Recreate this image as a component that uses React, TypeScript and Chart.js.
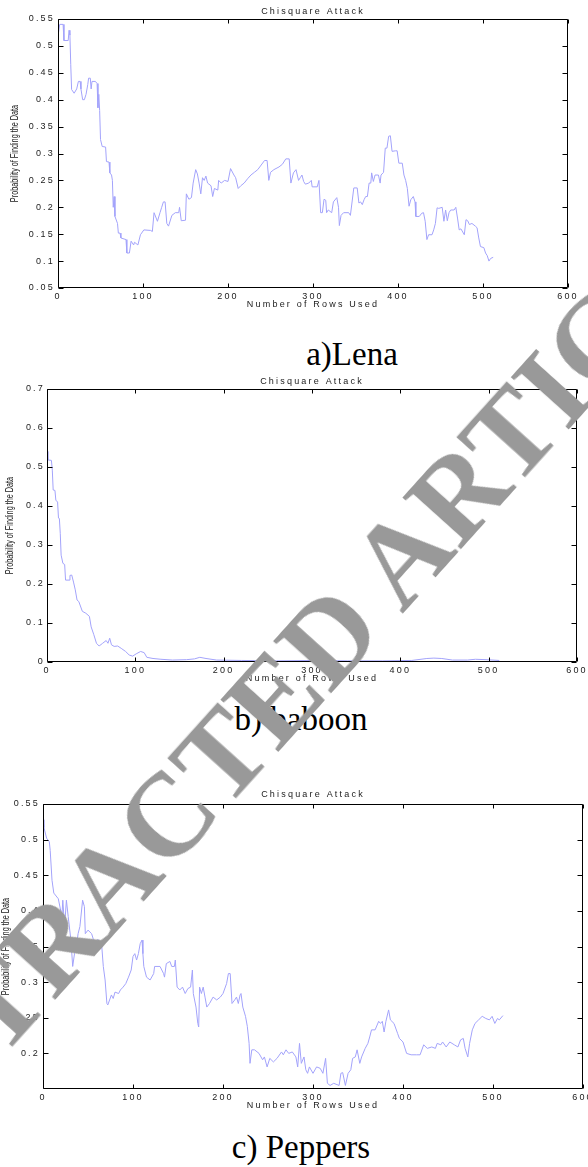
import React, { useEffect, useRef } from "react";
import { Chart, registerables } from "chart.js";

Chart.register(...registerables);

// ---------- data ----------
const lenaRows = [0,2,6,7,12,13,14,15,16,19,22,24,26,27,29,31,33,35,36,38,39,40,44,46,47,48,49,50,52,56,57,60,61,63,64,65,66,67,70,71,73,74,80,81,84,86,89,90,94,97,101,109,111,113,117,120,122,124,126,128,130,134,138,142,143,145,150,151,154,157,159,162,164,166,168,170,172,174,176,180,182,184,188,189,192,196,200,203,207,209,212,215,219,223,227,231,235,243,246,248,250,254,260,264,268,272,274,277,280,283,285,287,289,291,295,298,299,305,307,309,311,313,315,316,318,322,324,328,330,331,333,336,342,344,348,352,354,356,358,360,362,364,366,368,369,371,373,377,379,380,383,385,387,389,391,393,397,399,401,405,407,409,411,413,415,418,420,421,425,428,430,432,434,436,440,442,444,446,448,452,454,456,458,460,462,466,468,470,472,474,478,480,482,484,487,491,493,495,497,501,503,505,507,509,512];
const lenaValues = [0.518,0.54,0.54,0.51,0.51,0.529,0.52,0.465,0.419,0.412,0.42,0.434,0.434,0.42,0.40,0.40,0.41,0.428,0.44,0.44,0.42,0.434,0.434,0.43,0.385,0.41,0.38,0.326,0.313,0.312,0.285,0.284,0.264,0.26,0.25,0.20,0.22,0.183,0.17,0.152,0.152,0.143,0.14,0.115,0.115,0.137,0.13,0.135,0.13,0.149,0.158,0.157,0.155,0.19,0.174,0.19,0.2,0.21,0.21,0.17,0.165,0.185,0.19,0.19,0.2,0.175,0.176,0.225,0.215,0.218,0.245,0.27,0.262,0.245,0.225,0.255,0.25,0.258,0.245,0.24,0.22,0.235,0.232,0.25,0.245,0.25,0.248,0.272,0.26,0.255,0.235,0.24,0.245,0.253,0.26,0.265,0.27,0.287,0.287,0.25,0.265,0.27,0.275,0.28,0.29,0.29,0.245,0.264,0.27,0.25,0.255,0.26,0.248,0.243,0.245,0.25,0.238,0.238,0.25,0.19,0.19,0.215,0.213,0.19,0.195,0.19,0.21,0.218,0.2,0.166,0.185,0.19,0.19,0.185,0.236,0.236,0.208,0.21,0.205,0.214,0.22,0.22,0.245,0.245,0.264,0.248,0.26,0.26,0.245,0.26,0.265,0.31,0.31,0.332,0.333,0.304,0.305,0.305,0.282,0.282,0.26,0.25,0.235,0.202,0.214,0.22,0.21,0.183,0.183,0.189,0.19,0.174,0.14,0.149,0.149,0.158,0.17,0.199,0.198,0.2,0.174,0.195,0.175,0.19,0.195,0.195,0.2,0.18,0.158,0.16,0.149,0.177,0.175,0.168,0.17,0.165,0.162,0.143,0.127,0.125,0.115,0.11,0.1,0.105,0.107];

const baboonRows = [0,1,5,6,7,9,10,12,13,14,15,16,18,20,21,25,26,28,30,32,34,36,40,44,48,50,53,56,59,63,67,69,71,73,76,80,84,89,93,97,101,106,110,113,120,129,142,158,167,173,180,192,220,260,300,340,380,413,430,438,447,459,476,485,497,512];
const baboonValues = [0.54,0.518,0.517,0.492,0.441,0.44,0.415,0.41,0.369,0.368,0.33,0.274,0.253,0.25,0.21,0.21,0.222,0.223,0.205,0.185,0.159,0.155,0.13,0.125,0.117,0.09,0.07,0.048,0.041,0.048,0.055,0.048,0.061,0.044,0.04,0.041,0.035,0.027,0.018,0.015,0.021,0.027,0.024,0.012,0.009,0.007,0.005,0.006,0.008,0.012,0.009,0.005,0.004,0.003,0.004,0.003,0.003,0.004,0.009,0.01,0.009,0.005,0.005,0.007,0.006,0.004];

const peppersRows = [0,1,4,7,8,10,12,17,21,22,24,26,28,31,33,35,37,39,41,44,46,47,50,54,56,59,61,63,65,67,69,71,72,76,78,80,84,86,89,92,95,98,100,102,104,106,108,110,111,112,115,119,123,124,130,134,135,137,141,143,146,147,149,152,155,158,161,164,166,167,170,172,173,174,176,178,180,182,185,189,193,197,200,204,206,208,210,213,215,217,219,220,222,225,227,229,230,232,235,240,244,246,249,252,256,260,265,267,270,273,277,281,283,285,287,290,292,294,296,300,304,308,311,314,316,319,323,329,331,333,336,339,342,344,347,349,352,354,358,361,363,365,369,373,375,377,379,381,384,386,390,394,396,400,404,409,415,419,423,427,432,436,438,442,444,448,452,457,461,464,467,469,472,474,477,480,484,488,492,496,499,502,505,507,511];
const peppersValues = [0.528,0.517,0.502,0.497,0.485,0.443,0.425,0.417,0.392,0.415,0.378,0.415,0.392,0.359,0.322,0.34,0.35,0.368,0.378,0.415,0.406,0.368,0.373,0.368,0.36,0.354,0.36,0.35,0.355,0.322,0.303,0.27,0.268,0.282,0.277,0.286,0.284,0.289,0.293,0.298,0.307,0.317,0.336,0.34,0.331,0.34,0.354,0.359,0.34,0.322,0.307,0.303,0.312,0.322,0.322,0.312,0.307,0.326,0.329,0.322,0.322,0.331,0.293,0.289,0.293,0.284,0.291,0.293,0.317,0.284,0.265,0.242,0.237,0.293,0.284,0.293,0.279,0.265,0.27,0.279,0.275,0.279,0.284,0.298,0.312,0.312,0.27,0.275,0.279,0.27,0.282,0.284,0.265,0.252,0.238,0.214,0.186,0.205,0.205,0.2,0.191,0.195,0.181,0.193,0.188,0.193,0.202,0.198,0.205,0.2,0.202,0.195,0.181,0.214,0.186,0.195,0.177,0.172,0.181,0.172,0.181,0.179,0.172,0.193,0.158,0.155,0.158,0.155,0.172,0.173,0.155,0.172,0.177,0.193,0.195,0.205,0.186,0.195,0.207,0.214,0.223,0.233,0.233,0.245,0.242,0.245,0.23,0.245,0.261,0.247,0.242,0.228,0.221,0.216,0.2,0.198,0.198,0.198,0.212,0.207,0.209,0.207,0.214,0.212,0.216,0.209,0.216,0.212,0.209,0.219,0.221,0.207,0.195,0.214,0.233,0.242,0.247,0.252,0.249,0.247,0.252,0.242,0.249,0.247,0.253];

const xTicks = [0, 100, 200, 300, 400, 500, 600];
const lenaYTicks = [0.05, 0.1, 0.15, 0.2, 0.25, 0.3, 0.35, 0.4, 0.45, 0.5, 0.55];
const baboonYTicks = [0, 0.1, 0.2, 0.3, 0.4, 0.5, 0.6, 0.7];
const peppersYTicks = [0.2, 0.25, 0.3, 0.35, 0.4, 0.45, 0.5, 0.55];

const chartTitle = "Chisquare Attack";
const xTitle = "Number of Rows Used";
const yTitle = "Probability of Finding the Data";
const captions = ["a)Lena", "b) baboon", "c) Peppers"];
const watermark = "RETRACTED ARTICLE";

// ---------- styling ----------
const PAGE_W = 588;
const LINE_COLOR = "#a3a3fb";
const SANS = '"Liberation Sans", Arial, sans-serif';
const SERIF = '"Liberation Serif", "Times New Roman", serif';
const XAXIS_H = 14;

type PanelProps = {
  top: number;
  height: number;
  left: number;
  right: number;
  plotTop: number;
  plotBottom: number;
  rows: number[];
  values: number[];
  ymin: number;
  ymax: number;
  yTicks: number[];
  yPad: number;
  ylabelX: number;
  titleGap: number;
};

function Panel(p: PanelProps) {
  const ref = useRef<HTMLCanvasElement | null>(null);

  useEffect(() => {
    const canvas = ref.current;
    if (!canvas) return;
    const H = p.height;

    const frame = {
      id: "matlabFrame",
      beforeDraw(chart: any) {
        chart.ctx.letterSpacing = "2.2px";
      },
      afterDraw(chart: any) {
        const { ctx, chartArea: a, scales } = chart;
        ctx.save();
        ctx.letterSpacing = "0px";
        ctx.strokeStyle = "#000";
        ctx.lineWidth = 1;
        const L = Math.round(a.left) + 0.5;
        const R = Math.round(a.right) - 0.5;
        const T = Math.round(a.top) + 0.5;
        const B = Math.round(a.bottom) - 0.5;
        ctx.beginPath();
        ctx.rect(L, T, R - L, B - T);
        for (const t of scales.x.ticks) {
          const x = Math.round(scales.x.getPixelForValue(t.value)) + 0.5;
          ctx.moveTo(x, B);
          ctx.lineTo(x, B - 4);
          ctx.moveTo(x, T);
          ctx.lineTo(x, T + 4);
        }
        for (const t of scales.y.ticks) {
          const y = Math.round(scales.y.getPixelForValue(t.value)) + 0.5;
          ctx.moveTo(L, y);
          ctx.lineTo(L + 5, y);
          ctx.moveTo(R, y);
          ctx.lineTo(R - 5, y);
        }
        ctx.stroke();

        ctx.fillStyle = "#1a1a1a";
        ctx.font = `9px ${SANS}`;
        ctx.letterSpacing = "2.2px";
        ctx.textAlign = "center";
        ctx.textBaseline = "middle";
        const cx = (a.left + a.right) / 2;
        ctx.fillText(chartTitle, cx, a.top - p.titleGap);
        ctx.fillText(xTitle, cx, a.bottom + 16.5);

        ctx.letterSpacing = "0px";
        ctx.translate(p.ylabelX, (a.top + a.bottom) / 2);
        ctx.rotate(-Math.PI / 2);
        ctx.scale(0.66, 1);
        ctx.font = `11px ${SANS}`;
        ctx.fillText(yTitle, 0, 0);
        ctx.restore();
      },
    };

    const chart = new Chart(canvas, {
      type: "line",
      data: {
        datasets: [
          {
            data: p.rows.map((r, i) => ({ x: r, y: p.values[i] })),
            borderColor: LINE_COLOR,
            borderWidth: 1,
            pointRadius: 0,
            fill: false,
            tension: 0,
          },
        ],
      },
      options: {
        animation: false,
        responsive: false,
        events: [],
        layout: {
          padding: {
            left: 0,
            right: PAGE_W - p.right,
            top: p.plotTop,
            bottom: H - p.plotBottom - XAXIS_H,
          },
        },
        plugins: {
          legend: { display: false },
          tooltip: { enabled: false },
          title: { display: false },
        },
        scales: {
          x: {
            type: "linear",
            min: 0,
            max: 600,
            afterBuildTicks: (s: any) => {
              s.ticks = xTicks.map((v) => ({ value: v }));
            },
            afterFit: (s: any) => {
              s.height = XAXIS_H;
              s.paddingLeft = 0;
              s.paddingRight = 0;
            },
            grid: { display: false, drawTicks: false },
            border: { display: false },
            ticks: {
              padding: 3,
              autoSkip: false,
              maxRotation: 0,
              color: "#1a1a1a",
              font: { family: SANS, size: 9 },
              callback: (v: any) => String(v),
            },
          },
          y: {
            type: "linear",
            min: p.ymin,
            max: p.ymax,
            afterBuildTicks: (s: any) => {
              s.ticks = p.yTicks.map((v) => ({ value: v }));
            },
            afterFit: (s: any) => {
              s.width = p.left;
              s.paddingTop = 0;
              s.paddingBottom = 0;
            },
            grid: { display: false, drawTicks: false },
            border: { display: false },
            ticks: {
              padding: p.yPad,
              autoSkip: false,
              color: "#1a1a1a",
              font: { family: SANS, size: 9 },
              callback: (v: any) => String(v),
            },
          },
        },
      },
      plugins: [frame],
    } as any);

    return () => chart.destroy();
  }, []);

  return (
    <canvas
      ref={ref}
      width={PAGE_W}
      height={p.height}
      style={{ position: "absolute", left: 0, top: p.top, width: PAGE_W, height: p.height }}
    />
  );
}

const captionStyle = (x: number, y: number): React.CSSProperties => ({
  position: "absolute",
  left: x,
  top: y,
  transform: "translate(-50%, -50%)",
  fontFamily: SERIF,
  fontSize: 33,
  lineHeight: 1,
  whiteSpace: "nowrap",
  color: "#000",
});

export default function App() {
  return (
    <div
      style={{
        position: "absolute",
        left: 0,
        top: 0,
        width: PAGE_W,
        height: 1167,
        overflow: "hidden",
        background: "#fff",
      }}
    >
      <Panel top={0} height={320} left={58} right={568} plotTop={19} plotBottom={288}
        rows={lenaRows} values={lenaValues} ymin={0.05} ymax={0.55} yTicks={lenaYTicks}
        yPad={3} ylabelX={15} titleGap={7} />
      <div style={captionStyle(352, 354)}>{captions[0]}</div>

      <Panel top={370} height={320} left={47} right={577} plotTop={19} plotBottom={292}
        rows={baboonRows} values={baboonValues} ymin={0} ymax={0.7} yTicks={baboonYTicks}
        yPad={2} ylabelX={10} titleGap={7} />
      <div style={captionStyle(301, 719)}>{captions[1]}</div>

      <Panel top={785} height={330} left={43} right={583} plotTop={19} plotBottom={304}
        rows={peppersRows} values={peppersValues} ymin={0.15} ymax={0.55} yTicks={peppersYTicks}
        yPad={3} ylabelX={6} titleGap={9} />
      <div style={captionStyle(301, 1147)}>{captions[2]}</div>

      <div
        style={{
          position: "absolute",
          left: 296,
          top: 674,
          transform: "translate(-50%, -50%) rotate(-48deg)",
          fontFamily: SERIF,
          fontWeight: "bold",
          fontSize: 118,
          lineHeight: 1,
          whiteSpace: "nowrap",
          color: "#999",
          pointerEvents: "none",
        }}
      >
        {watermark}
      </div>
    </div>
  );
}
